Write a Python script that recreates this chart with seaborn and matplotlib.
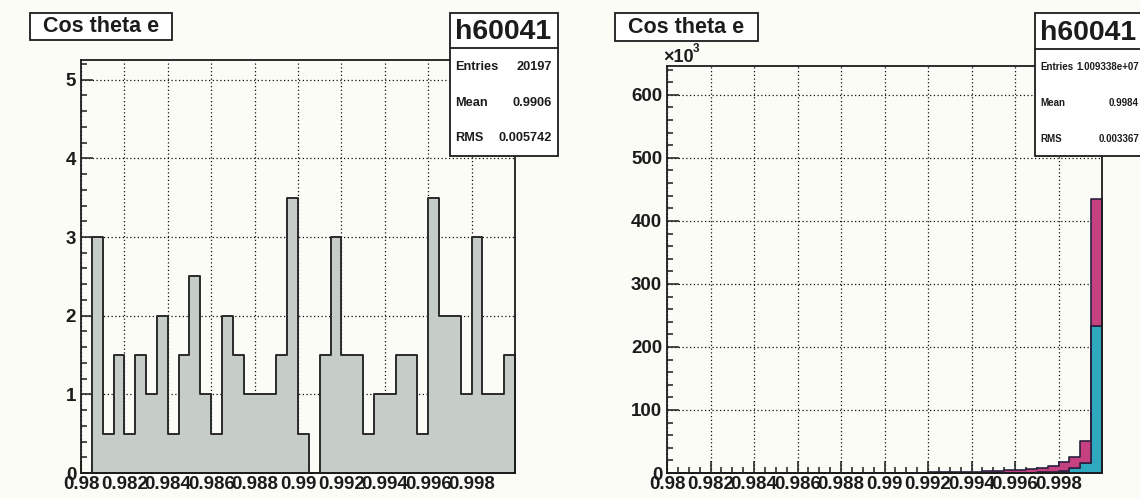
import numpy as np
import pandas as pd
import matplotlib
matplotlib.use("Agg")
import matplotlib.pyplot as plt
from matplotlib.patches import Rectangle
from matplotlib.lines import Line2D
from matplotlib.ticker import MultipleLocator, FixedLocator, FixedFormatter
from matplotlib import font_manager
import seaborn as sns

# ---- binning: 40 bins of width 0.0005 on [0.98, 1.0]
x_lo, x_hi, n_bins = 0.98, 1.0, 40

# ---- left histogram: entries per bin
left_counts = [0, 3, 0.5, 1.5, 0.5, 1.5, 1, 2, 0.5, 1.5,
               2.5, 1, 0.5, 2, 1.5, 1, 1, 1, 1.5, 3.5,
               0.5, 0, 1.5, 3, 1.5, 1.5, 0.5, 1, 1, 1.5,
               1.5, 0.5, 3.5, 2, 2, 1, 3, 1, 1, 1.5]

# ---- right stacked histogram, in units of 10^3
lower_k = [0.01, 0.01, 0.01, 0.01, 0.01, 0.01, 0.01, 0.01, 0.01, 0.01,
           0.02, 0.02, 0.02, 0.02, 0.02, 0.02, 0.02, 0.02, 0.02, 0.02,
           0.03, 0.03, 0.04, 0.05, 0.06, 0.07, 0.09, 0.11, 0.14, 0.18,
           0.22, 0.28, 0.35, 0.5, 0.8, 1.5, 3.5, 8, 16, 233]
upper_k = [0.05, 0.05, 0.06, 0.06, 0.07, 0.08, 0.09, 0.1, 0.11, 0.12,
           0.13, 0.15, 0.16, 0.18, 0.2, 0.22, 0.25, 0.28, 0.32, 0.36,
           0.4, 0.46, 0.55, 0.65, 0.8, 1.0, 1.25, 1.6, 2.1, 2.7,
           3.4, 4.2, 5.2, 6.3, 7.6, 9.8, 13.5, 17, 35, 201]

# ---- axis labels
xtick_values = [0.98, 0.982, 0.984, 0.986, 0.988, 0.99, 0.992, 0.994, 0.996, 0.998]
xtick_labels = ["0.98", "0.982", "0.984", "0.986", "0.988", "0.99",
                "0.992", "0.994", "0.996", "0.998"]
left_yticks = [0, 1, 2, 3, 4, 5]
right_yticks = [0, 100, 200, 300, 400, 500, 600]

title_text = "Cos theta e"
hist_name = "h60041"
stats_left = [("Entries", "20197"), ("Mean", "0.9906"), ("RMS", "0.005742")]
stats_right = [("Entries", "1.009338e+07"), ("Mean", "0.9984"), ("RMS", "0.003367")]

# ---- style
sns.set_theme(style="ticks")
plt.rcParams["font.family"] = ["Liberation Sans", "DejaVu Sans"]
names = {f.name for f in font_manager.fontManager.ttflist}
narrow = "Liberation Sans Narrow" if "Liberation Sans Narrow" in names else "Liberation Sans"

paper = "#fbfcf6"
ink = "#1c1c1c"
gray_fill = "#c6cdc6"
magenta = "#c6417f"
cyan = "#2fa9bf"

W, H = 1140, 498
fig = plt.figure(figsize=(W / 100, H / 100), dpi=100, facecolor=paper)


def fbox(x0, y0, x1, y1):
    """pixel box (top-left origin) -> figure rect"""
    return [x0 / W, 1 - y1 / H, (x1 - x0) / W, (y1 - y0) / H]


def fpt(x, y):
    return x / W, 1 - y / H


edges = list(np.linspace(x_lo, x_hi, n_bins + 1))
centers = [0.5 * (a + b) for a, b in zip(edges[:-1], edges[1:])]


def style_axes(ax, ymax, yticks, ymin_step):
    ax.set_facecolor(paper)
    ax.set_xlim(x_lo, x_hi)
    ax.set_ylim(0, ymax)
    ax.set_axisbelow(True)
    ax.xaxis.set_major_locator(FixedLocator(xtick_values))
    ax.xaxis.set_major_formatter(FixedFormatter(xtick_labels))
    ax.xaxis.set_minor_locator(MultipleLocator(0.0005))
    ax.yaxis.set_major_locator(FixedLocator(yticks))
    ax.yaxis.set_minor_locator(MultipleLocator(ymin_step))
    ax.set_yticklabels([str(v) for v in yticks])
    ax.tick_params(which="both", direction="in", colors=ink, width=1.1,
                   top=False, right=False)
    ax.tick_params(which="major", length=8.6)
    ax.tick_params(which="minor", length=4.3)
    ax.tick_params(axis="x", which="major", pad=2.5, labelsize=13.5)
    ax.tick_params(axis="y", which="major", pad=3.5, labelsize=13.5)
    for lab in ax.get_xticklabels() + ax.get_yticklabels():
        lab.set_fontweight("bold")
        lab.set_color(ink)
    ax.grid(True, which="major", color="#111111", linestyle=(0, (1, 2)), linewidth=0.9)
    for s in ax.spines.values():
        s.set_visible(True)
        s.set_linewidth(1.3)
        s.set_color(ink)
    ax.set_xlabel("")
    ax.set_ylabel("")


# ---- left panel
axL = fig.add_axes(fbox(81, 60, 515, 473))
df_left = pd.DataFrame({"cos": centers, "w": left_counts})
sns.histplot(data=df_left, x="cos", weights="w", bins=edges, element="step",
             fill=True, color=gray_fill, alpha=1, edgecolor="#2a2a2a",
             linewidth=1.4, ax=axL)
style_axes(axL, 5.25, left_yticks, 0.2)

# ---- right panel (stacked)
axR = fig.add_axes(fbox(667, 66.5, 1102, 473))
df = pd.DataFrame({
    "cos": centers + centers,
    "w": list(lower_k) + list(upper_k),
    "part": ["lower"] * n_bins + ["upper"] * n_bins,
})
sns.histplot(data=df, x="cos", weights="w", hue="part", hue_order=["upper", "lower"],
             multiple="stack", bins=edges, element="step", fill=True,
             palette={"upper": magenta, "lower": cyan}, alpha=1,
             edgecolor="#2b2140", linewidth=1.2, legend=False, ax=axR)
style_axes(axR, 645, right_yticks, 20)

fig.text(*fpt(663, 58), "\u00d710", fontsize=13, fontweight="bold", color=ink,
         ha="left", va="center")
fig.text(*fpt(693, 48.5), "3", fontsize=8.5, fontweight="bold", color=ink,
         ha="left", va="center")


# ---- title boxes
def title_box(x0, y0, x1, y1):
    fig.add_artist(Rectangle(fbox(x0, y0, x1, y1)[:2], (x1 - x0) / W, (y1 - y0) / H,
                             transform=fig.transFigure, facecolor="white",
                             edgecolor=ink, linewidth=1.3, zorder=5))
    fig.text(*fpt((x0 + x1) / 2, (y0 + y1) / 2 + 0.5), title_text, fontsize=15.5,
             fontweight="bold", color=ink, ha="center", va="center", zorder=6)


title_box(30, 13, 172, 40)
title_box(615, 13.5, 758, 41)


# ---- stats boxes
def stats_box(x0, y0, x1, y1, ysep, rows, name_x, name_ha, row_font, row_size, row_ys,
              lx, rx):
    fig.add_artist(Rectangle(fbox(x0, y0, x1, y1)[:2], (x1 - x0) / W, (y1 - y0) / H,
                             transform=fig.transFigure, facecolor="white",
                             edgecolor=ink, linewidth=1.3, zorder=5))
    fig.add_artist(Line2D([x0 / W, x1 / W], [1 - ysep / H, 1 - ysep / H],
                          transform=fig.transFigure, color=ink, linewidth=1.3, zorder=6))
    fig.text(*fpt(name_x, (y0 + ysep) / 2 + 1.5), hist_name, fontsize=20.5,
             fontweight="bold", color=ink, ha=name_ha, va="center", zorder=7)
    for (k, v), yy in zip(rows, row_ys):
        fig.text(*fpt(lx, yy), k, fontsize=row_size, fontweight="bold",
                 family=[row_font, "DejaVu Sans"], color=ink, ha="left",
                 va="center", zorder=7)
        fig.text(*fpt(rx, yy), v, fontsize=row_size, fontweight="bold",
                 family=[row_font, "DejaVu Sans"], color=ink, ha="right",
                 va="center", zorder=7)


stats_box(450, 13, 558, 156, 48, stats_left, 503, "center", "Liberation Sans", 9.2,
          [67, 103, 138], 455, 552)
stats_box(1035, 13, 1150, 156, 49, stats_right, 1040, "left", narrow, 7.0,
          [67, 103, 139], 1040, 1139)

fig.savefig("out.png", dpi=100, facecolor=paper)
